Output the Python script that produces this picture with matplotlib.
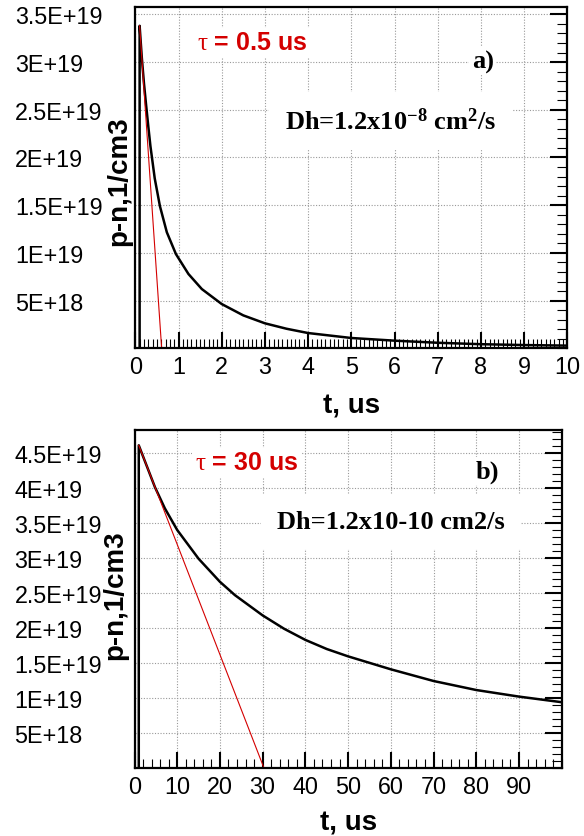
import numpy as np
import matplotlib.pyplot as plt
from matplotlib.ticker import MultipleLocator

plt.rcParams['font.family'] = ['Liberation Sans', 'DejaVu Sans']
plt.rcParams['mathtext.fontset'] = 'custom'
plt.rcParams['mathtext.rm'] = 'Liberation Serif:bold'
plt.rcParams['mathtext.bf'] = 'Liberation Serif:bold'
plt.rcParams['mathtext.it'] = 'Liberation Serif:italic:bold'
plt.rcParams['mathtext.sf'] = 'Liberation Serif'

# panel a) tau = 0.5 us, Dh = 1.2e-8
t_a = [0.1, 0.1, 0.15, 0.2, 0.25, 0.3, 0.35, 0.45, 0.57, 0.73, 0.94, 1.23, 1.54,
       2.0, 2.5, 3.0, 3.5, 4.0, 5.0, 6.0, 7.0, 8.0, 9.0, 10.0]
pn_a = [0, 3.38e19, 3.05e19, 2.78e19, 2.55e19, 2.33e19, 2.12e19, 1.78e19, 1.49e19,
        1.216e19, 9.88e18, 7.79e18, 6.21e18, 4.64e18, 3.45e18, 2.62e18, 2.05e18,
        1.6e18, 1.08e18, 8.0e17, 5.8e17, 4.3e17, 3.4e17, 2.8e17]
lin_t_a = [0.1, 0.61]
lin_a = [3.38e19, 0]

# panel b) tau = 30 us, Dh = 1.2e-10
t_b = [1, 1, 4.8, 7.1, 10, 15, 20, 23.5, 30, 35, 40, 45, 50, 60, 70, 80, 90, 100]
pn_b = [0, 4.61e19, 4.01e19, 3.71e19, 3.40e19, 2.99e19, 2.66e19, 2.47e19, 2.18e19,
        1.99e19, 1.83e19, 1.70e19, 1.595e19, 1.41e19, 1.243e19, 1.114e19,
        1.02e19, 9.4e18]
lin_t_b = [1, 30.3]
lin_b = [4.61e19, 0]

yticks_a = [5e18, 1e19, 1.5e19, 2e19, 2.5e19, 3e19, 3.5e19]
ylabels_a = ['5E+18', '1E+19', '1.5E+19', '2E+19', '2.5E+19', '3E+19', '3.5E+19']
yticks_b = [5e18, 1e19, 1.5e19, 2e19, 2.5e19, 3e19, 3.5e19, 4e19, 4.5e19]
ylabels_b = ['5E+18', '1E+19', '1.5E+19', '2E+19', '2.5E+19', '3E+19', '3.5E+19',
             '4E+19', '4.5E+19']
xticks_a = [0, 1, 2, 3, 4, 5, 6, 7, 8, 9, 10]
xticks_b = [0, 10, 20, 30, 40, 50, 60, 70, 80, 90]

red = '#d40000'

fig = plt.figure(figsize=(5.84, 8.37), dpi=100)
ax_a = fig.add_axes([135.3 / 584, 1 - 349.3 / 837, 432 / 584, 341 / 837])
ax_b = fig.add_axes([134.5 / 584, 1 - 769 / 837, 427.2 / 584, 338 / 837])


def style(ax, xticks, xminor, yticks, ylabels, xpad, lab_x, lab_y):
    ax.set_yticks(yticks)
    ax.set_yticklabels(ylabels)
    for lab in ax.get_yticklabels():
        lab.set_horizontalalignment('left')
    ax.set_xticks(xticks)
    ax.xaxis.set_minor_locator(MultipleLocator(xminor))
    ax.yaxis.set_minor_locator(MultipleLocator(1e18))
    ax.tick_params(axis='x', which='both', direction='in', bottom=True, top=False,
                   labelsize=16.8, pad=5)
    ax.tick_params(axis='x', which='major', length=11.5, width=1.5)
    ax.tick_params(axis='x', which='minor', length=6.5, width=0.8)
    ax.tick_params(axis='y', which='both', direction='in', left=False, right=True,
                   labelleft=True, labelright=False, labelsize=16.8, pad=86.4)
    ax.tick_params(axis='y', which='major', length=12, width=1.5)
    ax.tick_params(axis='y', which='minor', length=7.5, width=0.8)
    for sp in ax.spines.values():
        sp.set_linewidth(1.6)
    ax.set_axisbelow(True)
    ax.grid(True, which='major', color='#999999', linestyle=(0, (1, 1.5)), linewidth=0.8)
    ax.set_xlabel('t, us', fontsize=20, fontweight='bold', labelpad=xpad)
    ax.set_ylabel('p-n,1/cm3', fontsize=20, fontweight='bold')
    ax.yaxis.set_label_coords(lab_x, lab_y)


ax_a.plot(t_a, pn_a, color='black', linewidth=1.8)
ax_a.plot(lin_t_a, lin_a, color=red, linewidth=0.8)
ax_a.set_xlim(0, 10)
ax_a.set_ylim(0, 3.574e19)
style(ax_a, xticks_a, 0.1, yticks_a, ylabels_a, 10, -0.008, 0.494)

ax_b.plot(t_b, pn_b, color='black', linewidth=1.8)
ax_b.plot(lin_t_b, lin_b, color=red, linewidth=0.8)
ax_b.set_xlim(0, 100)
ax_b.set_ylim(0, 4.829e19)
style(ax_b, xticks_b, 2, yticks_b, ylabels_b, 8, -0.0145, 0.513)

box_small = dict(facecolor='white', edgecolor='none', boxstyle='square,pad=0.1')
box_big = dict(facecolor='white', edgecolor='none', boxstyle='square,pad=0.6')

ax_a.text(0.143, 0.898, r'$\mathsf{\tau}$ = 0.5 us', transform=ax_a.transAxes,
          color=red, fontsize=18, fontweight='bold', ha='left', va='center',
          bbox=box_small)
ax_a.text(0.804, 0.842, 'a)', transform=ax_a.transAxes, fontsize=19,
          fontweight='bold', family='Liberation Serif', ha='center', va='center',
          bbox=box_small)
ax_a.text(0.591, 0.667, r'Dh=1.2x10$^{\mathrm{-8}}$ cm$^{\mathrm{2}}$/s',
          transform=ax_a.transAxes, fontsize=19, fontweight='bold',
          family='Liberation Serif', ha='center', va='center', bbox=box_big)

ax_b.text(0.1416, 0.905, r'$\mathsf{\tau}$ = 30 us', transform=ax_b.transAxes,
          color=red, fontsize=18, fontweight='bold', ha='left', va='center',
          bbox=box_small)
ax_b.text(0.826, 0.879, 'b)', transform=ax_b.transAxes, fontsize=19,
          fontweight='bold', family='Liberation Serif', ha='center', va='center',
          bbox=box_small)
ax_b.text(0.600, 0.728, 'Dh=1.2x10-10 cm2/s', transform=ax_b.transAxes,
          fontsize=19, fontweight='bold', family='Liberation Serif',
          ha='center', va='center', bbox=box_big)

fig.savefig('out.png', dpi=100)
